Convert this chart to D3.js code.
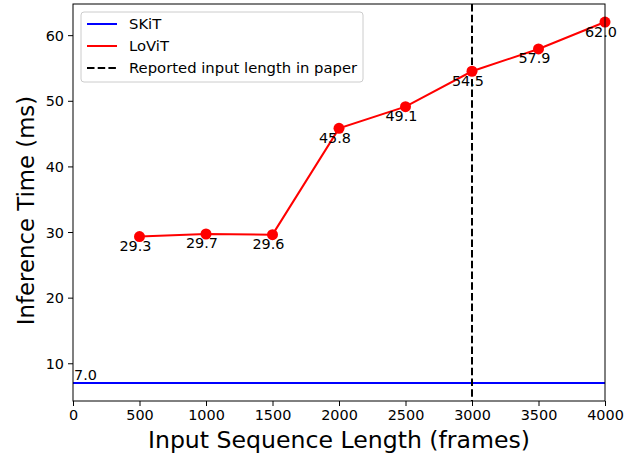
<!DOCTYPE html>
<html lang="en">
<head>
    <meta charset="UTF-8">
    <title>Inference time vs input sequence length</title>
    <style>
        body { margin: 0; background: #fff; }
        svg text { font-family: "DejaVu Sans", sans-serif; fill: #000; }
        .x_axis path, .y_axis path { display: none; }
        .x_axis line, .y_axis line { stroke: #000; stroke-width: 1; }
        .x_axis text, .y_axis text { font-size: 14.4px; }
    </style>
</head>
<body>
    <script src="https://cdn.jsdelivr.net/npm/d3@7"></script>
    <script>
        // data
        const seq_lengths = [500, 1000, 1500, 2000, 2500, 3000, 3500, 4000];
        const lovit_times = [29.3, 29.7, 29.6, 45.8, 49.1, 54.5, 57.9, 62.0];
        const skit_time = 7.0;
        const reported_length = 3000;
        const x_ticks = [0, 500, 1000, 1500, 2000, 2500, 3000, 3500, 4000];
        const y_ticks = [10, 20, 30, 40, 50, 60];
        const legend_labels = ['SKiT', 'LoViT', 'Reported input length in paper'];

        const svg_w = 632;
        const svg_h = 455;
        const m_left = 73, m_right = 605, m_top = 4, m_bottom = 401;

        const svg = d3.select('body').append('svg')
            .attr('width', svg_w)
            .attr('height', svg_h);

        const x_scale = d3.scaleLinear([0, 4000], [m_left, m_right]);
        // matplotlib-like 5% margin around 7 .. 62
        const span = d3.max(lovit_times) - skit_time;
        const y_scale = d3.scaleLinear([skit_time - 0.05 * span, d3.max(lovit_times) + 0.05 * span], [m_bottom, m_top]);

        const x_axis = d3.axisBottom(x_scale).tickValues(x_ticks).tickSize(5).tickPadding(4).tickFormat(d3.format('d'));
        const y_axis = d3.axisLeft(y_scale).tickValues(y_ticks).tickSize(5).tickPadding(4);

        svg.append('g').attr('class', 'x_axis')
            .attr('transform', `translate(0, ${m_bottom})`)
            .call(x_axis);
        svg.append('g').attr('class', 'y_axis')
            .attr('transform', `translate(${m_left}, 0)`)
            .call(y_axis);
        svg.selectAll('.y_axis text').attr('dy', '0.36em');

        // SKiT constant line
        svg.append('line')
            .attr('x1', x_scale(0)).attr('x2', x_scale(4000))
            .attr('y1', y_scale(skit_time)).attr('y2', y_scale(skit_time))
            .attr('stroke', 'blue').attr('stroke-width', 2);
        svg.append('text')
            .attr('x', x_scale(0) + 1)
            .attr('y', y_scale(skit_time) - 3)
            .attr('font-size', 14.4)
            .text(skit_time.toFixed(1));

        // reported input length
        svg.append('line')
            .attr('x1', x_scale(reported_length)).attr('x2', x_scale(reported_length))
            .attr('y1', m_top).attr('y2', m_bottom)
            .attr('stroke', 'black').attr('stroke-width', 2)
            .attr('stroke-dasharray', '7.5,3.2');

        // LoViT line
        const line = d3.line()
            .x((d, i) => x_scale(seq_lengths[i]))
            .y(d => y_scale(d));
        svg.append('path')
            .attr('d', line(lovit_times))
            .attr('fill', 'none')
            .attr('stroke', 'red')
            .attr('stroke-width', 2);

        svg.selectAll('circle.pt')
            .data(lovit_times)
            .enter()
            .append('circle')
            .attr('class', 'pt')
            .attr('cx', (d, i) => x_scale(seq_lengths[i]))
            .attr('cy', d => y_scale(d))
            .attr('r', 5.5)
            .attr('fill', 'red');

        svg.selectAll('text.val')
            .data(lovit_times)
            .enter()
            .append('text')
            .attr('class', 'val')
            .attr('x', (d, i) => x_scale(seq_lengths[i]) - 4)
            .attr('y', d => y_scale(d) + 14.5)
            .attr('text-anchor', 'middle')
            .attr('font-size', 14.4)
            .text(d => d.toFixed(1));

        // frame
        svg.append('rect')
            .attr('x', m_left).attr('y', m_top)
            .attr('width', m_right - m_left).attr('height', m_bottom - m_top)
            .attr('fill', 'none').attr('stroke', '#000').attr('stroke-width', 1);

        // axis labels
        svg.append('text')
            .attr('x', (m_left + m_right) / 2)
            .attr('y', 448)
            .attr('text-anchor', 'middle')
            .attr('font-size', 23.6)
            .text('Input Sequence Length (frames)');
        svg.append('text')
            .attr('transform', `translate(34, ${(m_top + m_bottom) / 2 + 8}) rotate(-90)`)
            .attr('text-anchor', 'middle')
            .attr('font-size', 22.8)
            .text('Inference Time (ms)');

        // legend
        const legend = svg.append('g').attr('transform', 'translate(81, 12)');
        legend.append('rect')
            .attr('width', 282).attr('height', 70)
            .attr('rx', 3)
            .attr('fill', 'white').attr('fill-opacity', 0.8)
            .attr('stroke', '#ccc').attr('stroke-width', 1);
        const legend_styles = [
            { color: 'blue', dash: null },
            { color: 'red', dash: null },
            { color: 'black', dash: '7.5,3.2' }
        ];
        legend_labels.forEach((label, i) => {
            const y = 12 + i * 22;
            legend.append('line')
                .attr('x1', 6).attr('x2', 36)
                .attr('y1', y).attr('y2', y)
                .attr('stroke', legend_styles[i].color)
                .attr('stroke-width', 2)
                .attr('stroke-dasharray', legend_styles[i].dash);
            legend.append('text')
                .attr('x', 48)
                .attr('y', y + 5)
                .attr('font-size', 14.8)
                .text(label);
        });
    </script>
</body>
</html>
